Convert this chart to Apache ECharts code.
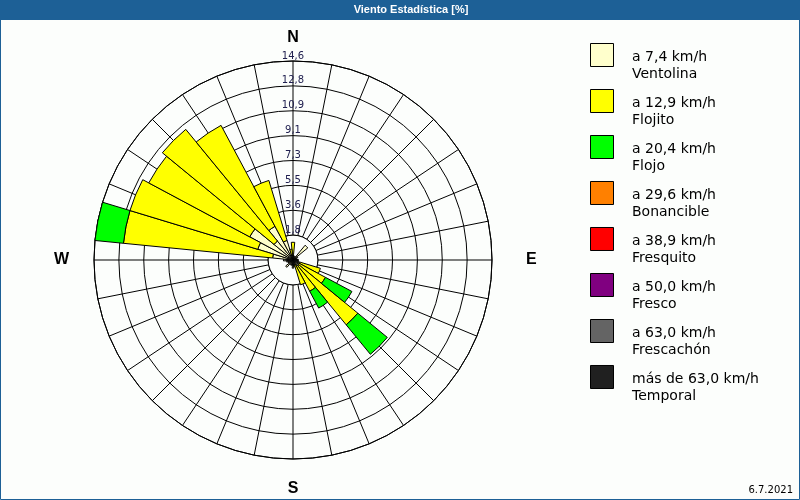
<!DOCTYPE html>
<html><head><meta charset="utf-8">
<script src="https://cdn.jsdelivr.net/npm/echarts@6/dist/echarts.min.js"></script>
<style>html,body{margin:0;padding:0;background:#fff}#c{width:800px;height:500px}</style>
</head><body><div id="c"></div>
<script>
// 32 compass directions, clockwise from North
const DIRECTIONS = ['N','NbE','NNE','NEbN','NE','NEbE','ENE','EbN','E','EbS','ESE','SEbE','SE','SEbS','SSE','SbE',
                    'S','SbW','SSW','SWbS','SW','SWbW','WSW','WbS','W','WbN','WNW','NWbW','NW','NWbN','NNW','NbW'];
const CLASS_NAMES = ['a 7,4 km/h\nVentolina','a 12,9 km/h\nFlojito','a 20,4 km/h\nFlojo','a 29,6 km/h\nBonancible',
                     'a 38,9 km/h\nFresquito','a 50,0 km/h\nFresco','a 63,0 km/h\nFrescachón','más de 63,0 km/h\nTemporal'];
const CLASS_COLORS = ['#ffffcc','#ffff00','#00ff00','#ff8000','#ff0000','#800080','#646464','#202020'];
// frequencies in % per direction
const VENTOLINA  = [0.4,0.3,0.3,0.3,1.4,0.4,0.3,0.3,0.4,0.4,0.5,0.5,0.6,0.5,0.4,0.5,
                    0.6,0.4,0.4,0.3,0.7,0.4,0.4,0.5,0.7,1.5,2.7,3.6,1.8,2.8,1.5,0.4];
const FLOJITO    = [0.9,null,null,null,null,null,null,null,null,null,1.6,2.2,5.55,2.1,1.5,null,
                    null,null,null,null,null,null,null,null,null,11.0,9.8,8.4,10.6,8.4,4.6,0.4];
const FLOJO      = [null,null,null,null,null,null,null,null,null,null,null,2.2,2.8,1.4,null,null,
                    null,null,null,null,null,null,null,null,null,2.1,null,null,null,null,null,null];
const BONANCIBLE = [];
const FRESQUITO  = [];
const FRESCO     = [];
const FRESCACHON = [];
const TEMPORAL   = [];
const CLASS_DATA = [VENTOLINA, FLOJITO, FLOJO, BONANCIBLE, FRESQUITO, FRESCO, FRESCACHON, TEMPORAL];
const RADIUS_MAX = 14.6;
const RADIUS_STEP = 1.825;
const RADIUS_LABELS = ['', '1,8', '3,6', '5,5', '7,3', '9,1', '10,9', '12,8', '14,6'];
const COMPASS_LABELS = {0: 'N', 90: 'E', 180: 'S', 270: 'W'};
const TITLE = 'Viento Estadística [%]';
const DATE_TEXT = '6.7.2021';

const CX = 293, CY = 260, R = 199;
const chart = echarts.init(document.getElementById('c'), null, {renderer: 'canvas'});
const bold = {fontFamily: 'Liberation Sans', fontWeight: 'bold', fontSize: 16, color: '#000'};
const series = CLASS_NAMES.map((name, i) => ({
  type: 'bar', coordinateSystem: 'polar', polarIndex: 1, stack: 'wind', name: name,
  data: CLASS_DATA[i], barCategoryGap: '0%',
  itemStyle: {color: CLASS_COLORS[i], borderColor: '#000', borderWidth: 1},
  emphasis: {disabled: true}, animation: false
}));
chart.setOption({
  animation: false,
  backgroundColor: '#fcfefc',
  title: [
    {text: TITLE, left: 411, top: 4, textAlign: 'center', padding: 0,
     textStyle: {color: '#fff', fontSize: 11, fontWeight: 'bold', fontFamily: 'Liberation Sans'}},
    {text: DATE_TEXT, right: 7, top: 485, padding: 0,
     textStyle: {color: '#000', fontSize: 10, fontWeight: 'normal', fontFamily: 'DejaVu Sans'}}
  ],
  legend: {
    orient: 'vertical', left: 590, top: 43, padding: 0,
    itemWidth: 23, itemHeight: 44.6, itemGap: 0.4,
    icon: 'path://M0,0L23,0L23,23L0,23Z M0,44.6',
    selectedMode: false,
    itemStyle: {borderColor: '#000', borderWidth: 1},
    textStyle: {fontFamily: 'DejaVu Sans', fontSize: 14, lineHeight: 17.6, color: '#000', padding: [1, 0, 0, 13.5]},
    data: CLASS_NAMES
  },
  polar: [
    {center: [CX, CY], radius: R},
    {center: [CX, CY], radius: R}
  ],
  angleAxis: [
    {polarIndex: 0, type: 'value', min: 0, max: 360, interval: 11.25, startAngle: 90, clockwise: true,
     axisLine: {show: true, lineStyle: {color: '#000', width: 1}},
     axisTick: {show: false},
     splitLine: {show: true, lineStyle: {color: '#000', width: 1}},
     axisLabel: {show: true, margin: 15,
       formatter: v => { const l = COMPASS_LABELS[Math.round(v)]; return (l && Math.abs(v - Math.round(v)) < 1e-6) ? '{' + l.toLowerCase() + '|' + l + '}' : ''; },
       rich: {
         n: Object.assign({padding: [0, 0, 0, 0]}, bold),
         e: Object.assign({padding: [0, 0, 0, 19]}, bold),
         s: Object.assign({padding: [7, 0, 0, 0]}, bold),
         w: Object.assign({padding: [0, 10, 0, 0]}, bold)
       }}},
    {polarIndex: 1, type: 'category', data: DIRECTIONS, startAngle: 90 + 360 / 64, clockwise: true, show: false}
  ],
  radiusAxis: [
    {polarIndex: 0, type: 'value', min: 0, max: RADIUS_MAX, interval: RADIUS_STEP,
     axisLine: {show: false}, axisTick: {show: false},
     splitLine: {show: true, lineStyle: {color: '#000', width: 1}},
     axisLabel: {show: true, margin: 0, align: 'center', verticalAlign: 'bottom',
       fontFamily: 'DejaVu Sans', fontSize: 10, color: '#202050',
       formatter: v => RADIUS_LABELS[Math.round(v / RADIUS_STEP)] || ''}},
    {polarIndex: 1, type: 'value', min: 0, max: RADIUS_MAX, show: false}
  ],
  graphic: {elements: [
    {type: 'rect', z: 0, shape: {x: 0, y: 0, width: 800, height: 20}, style: {fill: '#1d6096'}, silent: true},
    {type: 'rect', z: 0, shape: {x: 0.5, y: 0.5, width: 799, height: 499}, style: {fill: null, stroke: '#1d6096', lineWidth: 1}, silent: true},
    {type: 'circle', z: 1, shape: {cx: CX, cy: CY, r: R * RADIUS_STEP / RADIUS_MAX}, style: {fill: '#fcfefc', stroke: '#000', lineWidth: 1}, silent: true}
  ]},
  series: series
});
</script></body></html>
